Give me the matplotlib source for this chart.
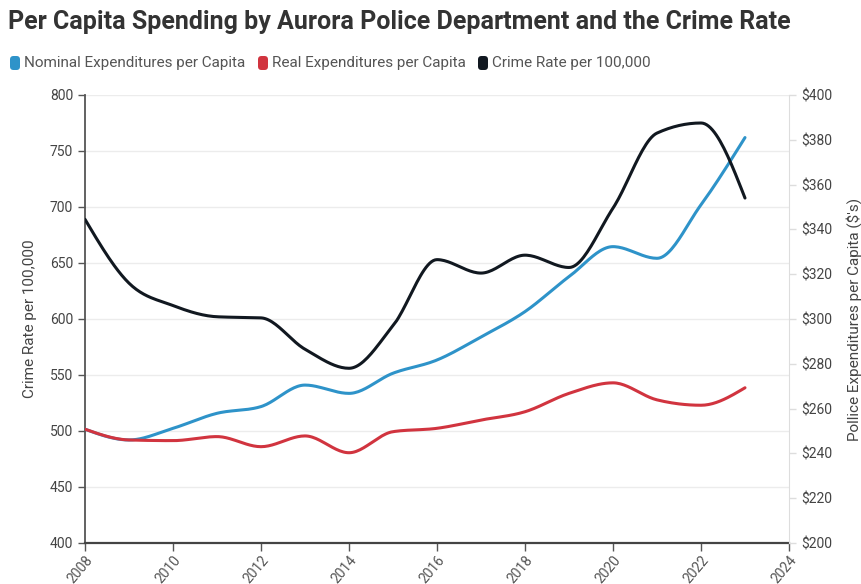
import numpy as np
import matplotlib.pyplot as plt
from matplotlib.patches import FancyBboxPatch

# ── Data ─────────────────────────────────────────────────────────────────────
years = [2008, 2009, 2010, 2011, 2012, 2013, 2014, 2015,
         2016, 2017, 2018, 2019, 2020, 2021, 2022, 2023]
crime_rate = [689, 632, 612, 602, 601, 573, 556, 594,
              653, 641, 657, 646, 699, 766, 775, 708]
nominal_pc = [250.8, 246.0, 251.2, 257.9, 260.9, 270.5, 266.8, 275.8,
              281.7, 292.0, 303.3, 318.9, 332.3, 327.1, 351.0, 381.0]
real_pc = [250.8, 246.0, 245.7, 247.5, 243.0, 247.8, 240.3, 249.7,
           251.2, 254.9, 258.6, 266.8, 271.5, 263.9, 261.5, 269.3]

left_ticks = [400, 450, 500, 550, 600, 650, 700, 750, 800]
right_ticks = [200, 220, 240, 260, 280, 300, 320, 340, 360, 380, 400]
x_ticks = [2008, 2010, 2012, 2014, 2016, 2018, 2020, 2022, 2024]

BLUE = "#2e93c9"
RED = "#d1343f"
BLACK = "#111820"
TXT = "#444444"


def monotone_curve(x, y, n=24):
    """Smooth monotone cubic path through the points (render only)."""
    x = np.asarray(x, float)
    y = np.asarray(y, float)
    h = np.diff(x)
    d = np.diff(y) / h
    m = np.zeros_like(y)
    for i in range(1, len(y) - 1):
        s0, s1 = d[i - 1], d[i]
        p = (s0 * h[i] + s1 * h[i - 1]) / (h[i - 1] + h[i])
        m[i] = (np.sign(s0) + np.sign(s1)) * min(abs(s0), abs(s1), 0.5 * abs(p))
    m[0] = (3 * d[0] - m[1]) / 2
    m[-1] = (3 * d[-1] - m[-2]) / 2
    xs, ys = [], []
    for i in range(len(h)):
        t = np.linspace(0, 1, n, endpoint=(i == len(h) - 1))
        h00 = 2 * t**3 - 3 * t**2 + 1
        h10 = t**3 - 2 * t**2 + t
        h01 = -2 * t**3 + 3 * t**2
        h11 = t**3 - t**2
        xs.append(x[i] + t * h[i])
        ys.append(h00 * y[i] + h10 * h[i] * m[i] + h01 * y[i + 1] + h11 * h[i] * m[i + 1])
    return np.concatenate(xs), np.concatenate(ys)


plt.rcParams['font.family'] = ['Roboto', 'DejaVu Sans']

W, H = 8.62, 5.84
fig = plt.figure(figsize=(W, H), dpi=100)
ax = fig.add_axes([85 / 862, 1 - 543 / 584, (789 - 85) / 862, (543 - 95) / 584])
ax2 = ax.twinx()

# ── Left axis: crime rate ───────────────────────────────────────────────────
ax.set_xlim(2008, 2024)
ax.set_ylim(400, 800)
ax.set_yticks(left_ticks)
ax.set_xticks(x_ticks)
ax.grid(axis='y', color="#ececec", linewidth=1)
ax.set_axisbelow(True)
ax.tick_params(axis='y', colors="#555555", labelcolor=TXT, labelsize=10, length=5, width=1)
ax.tick_params(axis='x', colors="#555555", labelcolor="#555555", labelsize=10,
               length=6, width=1, pad=1)
for lab in ax.get_xticklabels():
    lab.set_rotation(50)
    lab.set_ha('right')
    lab.set_va('top')
    lab.set_rotation_mode('anchor')
ax.set_ylabel("Crime Rate per 100,000", color=TXT, fontsize=11, labelpad=9)
ax.spines['top'].set_visible(False)
ax.spines['right'].set_visible(False)
ax.spines['left'].set_color("#555555")
ax.spines['bottom'].set_color("#444444")
ax.spines['left'].set_linewidth(1.3)
ax.spines['bottom'].set_linewidth(1.6)

# ── Right axis: spending ────────────────────────────────────────────────────
ax2.set_ylim(200, 400)
ax2.set_yticks(right_ticks)
ax2.set_yticklabels([f"${v}" for v in right_ticks])
ax2.tick_params(axis='y', colors="#dddddd", labelcolor=TXT, labelsize=10, length=5, width=1)
ax2.set_ylabel("Pollice Expenditures per Capita ($'s)", color=TXT, fontsize=11, labelpad=10)
for s in ['top', 'left', 'bottom']:
    ax2.spines[s].set_visible(False)
ax2.spines['right'].set_color("#dddddd")

# ── Lines ───────────────────────────────────────────────────────────────────
xs, ys = monotone_curve(years, nominal_pc)
ax2.plot(xs, ys, color=BLUE, linewidth=2.2, solid_capstyle='round', zorder=3)
xs, ys = monotone_curve(years, real_pc)
ax2.plot(xs, ys, color=RED, linewidth=2.2, solid_capstyle='round', zorder=3)
# crime rate belongs to the left axis; drawn on top via ax's data transform
xs, ys = monotone_curve(years, crime_rate)
ax2.plot(xs, ys, color=BLACK, linewidth=2.2, solid_capstyle='round', zorder=4,
         transform=ax.transData)

# ── Title and legend ────────────────────────────────────────────────────────
fig.text(8 / 862, 1 - 22 / 584, "Per Capita Spending by Aurora Police Department and the Crime Rate",
         fontsize=18, fontweight='bold', color="#333333", va='center', ha='left')

legend_items = [("Nominal Expenditures per Capita", BLUE, 10),
                ("Real Expenditures per Capita", RED, 258),
                ("Crime Rate per 100,000", BLACK, 478)]
for label, col, px in legend_items:
    fig.patches.append(FancyBboxPatch((px / 100, H - 70 / 100), 0.10, 0.14,
                                      boxstyle="round,pad=0,rounding_size=0.035",
                                      transform=fig.dpi_scale_trans, facecolor=col,
                                      edgecolor='none'))
    fig.text((px + 14) / 862, 1 - 63 / 584, label, fontsize=11, color="#555555",
             va='center', ha='left')

fig.savefig("out.png", dpi=100)
